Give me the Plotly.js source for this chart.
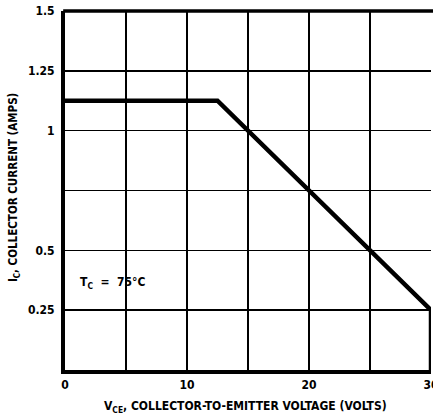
<!DOCTYPE html>
<html>
<head>
<meta charset="utf-8">
<script src="https://cdn.plot.ly/plotly-3.0.1.min.js"></script>
<style>
  html, body { margin: 0; padding: 0; background: #fff; overflow: hidden; }
  #chart { width: 440px; height: 419px; }
</style>
</head>
<body>
<div id="chart"></div>
<script>
// Safe operating limit: collector current vs collector-emitter voltage, Tc = 75°C
const vce = [0, 12.5, 30, 30];
const ic = [1.125, 1.125, 0.25, 0];

// Grid positions and tick labels
const xGrid = [0, 5, 10, 15, 20, 25];
const xLabelVals = [0, 10, 20, 30];
const xLabelText = ['0', '10', '20', '30'];
const yGrid = [0.25, 0.5, 0.75, 1, 1.25, 1.5];
const yLabelText = ['0.25', '0.5', '', '1', '1.25', '1.5'];

const FONT = '"DejaVu Sans Condensed", "Liberation Sans Narrow", "Arial Narrow", sans-serif';

const traces = [{
  x: vce, y: ic,
  xaxis: 'x2', yaxis: 'y',
  mode: 'lines',
  line: { color: '#000', width: 4.5 },
  hoverinfo: 'skip',
  cliponaxis: false
}];

const layout = {
  width: 440, height: 419,
  margin: { l: 65, r: 9, t: 11, b: 49 },
  paper_bgcolor: '#fff', plot_bgcolor: '#fff',
  showlegend: false,
  font: { family: FONT, color: '#000', size: 12, weight: 'bold' },
  xaxis: {
    range: [0, 30], fixedrange: true,
    tickvals: xGrid, showticklabels: false, ticks: '',
    showgrid: true, gridcolor: '#000', gridwidth: 1.6,
    zeroline: false,
    showline: true, linecolor: '#000', linewidth: 4
  },
  xaxis2: {
    range: [0, 30], fixedrange: true, overlaying: 'x', anchor: 'y', side: 'bottom',
    tickvals: xLabelVals, ticktext: xLabelText, ticks: '',
    showgrid: false, zeroline: false, showline: false,
    tickfont: { family: FONT, size: 12, color: '#000', weight: 'bold' },
    ticklabelstandoff: 6
  },
  yaxis: {
    range: [0, 1.5], fixedrange: true,
    tickvals: yGrid, ticktext: yLabelText, ticks: '',
    showgrid: true, gridcolor: '#000', gridwidth: 1.6,
    zeroline: false,
    showline: true, linecolor: '#000', linewidth: 4,
    tickfont: { family: FONT, size: 12, color: '#000', weight: 'bold' },
    ticklabelstandoff: 4
  },
  shapes: [{
    type: 'line', xref: 'paper', yref: 'paper',
    x0: -0.005, x1: 1.05, y0: 1, y1: 1,
    line: { color: '#000', width: 3.5 }
  }],
  annotations: [
    {
      text: 'T<sub>C</sub>  =  75°C',
      x: 3.9, y: 0.365, xref: 'x', yref: 'y',
      showarrow: false,
      font: { family: FONT, size: 12, color: '#000', weight: 'bold' }
    },
    {
      text: 'V<sub>CE</sub>, COLLECTOR-TO-EMITTER VOLTAGE (VOLTS)',
      x: 0.492, y: -0.103, xref: 'paper', yref: 'paper',
      xanchor: 'center', yanchor: 'middle',
      showarrow: false,
      font: { family: FONT, size: 12, color: '#000', weight: 'bold' }
    },
    {
      text: 'I<sub>C</sub>, COLLECTOR CURRENT (AMPS)',
      x: -0.139, y: 0.507, xref: 'paper', yref: 'paper',
      xanchor: 'center', yanchor: 'middle',
      showarrow: false, textangle: -90,
      font: { family: FONT, size: 11.5, color: '#000', weight: 'bold' }
    }
  ]
};

Plotly.newPlot('chart', traces, layout, { displayModeBar: false, staticPlot: true });
</script>
</body>
</html>
